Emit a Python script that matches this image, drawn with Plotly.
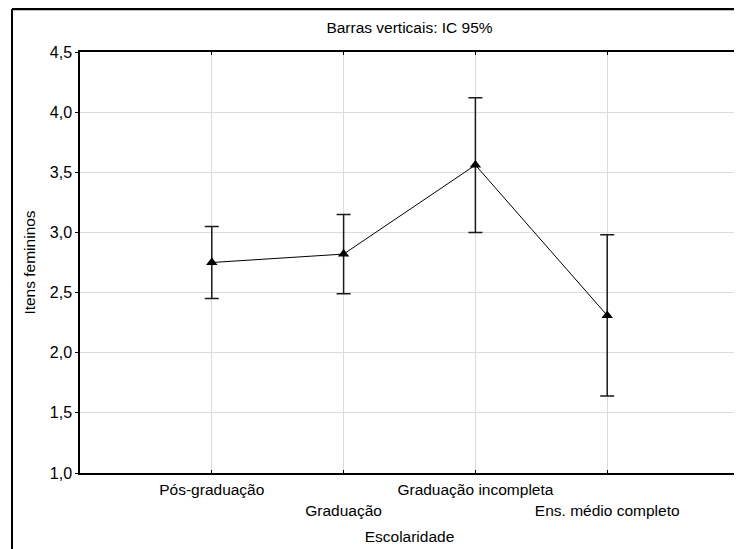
import plotly.graph_objects as go

categories = ["Pós-graduação", "Graduação", "Graduação incompleta", "Ens. médio completo"]
means = [2.75, 2.82, 3.56, 2.31]
ci_half = [0.30, 0.33, 0.56, 0.67]
y_ticks = [1.0, 1.5, 2.0, 2.5, 3.0, 3.5, 4.0, 4.5]

xpos = list(range(len(categories)))
ticktext = [c if i % 2 == 0 else "<br>" + c for i, c in enumerate(categories)]

FONT = "Liberation Sans, Arial, sans-serif"
OFF = 8  # page body margin
W, H = 742 - OFF, 549 - OFF
L, T, R, B = 80 - OFF, 52 - OFF, 3, H - (473 - OFF)

fig = go.Figure()
fig.add_trace(go.Scatter(
    x=xpos, y=means, mode="lines+markers",
    line=dict(color="black", width=1),
    marker=dict(symbol="triangle-up", size=10, color="black"),
    error_y=dict(type="data", array=ci_half, visible=True,
                 color="#1a1a1a", thickness=1.5, width=7),
    showlegend=False, hoverinfo="skip",
))

fig.update_layout(
    width=W, height=H,
    margin=dict(l=L, r=R, t=T, b=B, autoexpand=False),
    paper_bgcolor="white", plot_bgcolor="white",
    separators=",.",
    font=dict(family=FONT, size=16, color="black"),
    title=dict(text="Barras verticais: IC 95%", x=0.5, xref="paper",
               y=1 - (28 - OFF) / H, yanchor="middle", font=dict(size=15.5)),
    showlegend=False,
)

fig.update_xaxes(
    range=[-1, 4], tickmode="array", tickvals=xpos, ticktext=ticktext,
    tickangle=0, automargin=False, ticklabelstandoff=2,
    showgrid=True, gridcolor="#dcdcdc", gridwidth=1,
    showline=True, linecolor="black", linewidth=1.5, mirror="ticks",
    ticks="inside", ticklen=3, tickcolor="black",
    zeroline=False, tickfont=dict(size=15.5),
    title=dict(text="Escolaridade", font=dict(size=15.5), standoff=14),
)
fig.update_yaxes(
    range=[1.0, 4.5], tickmode="array", tickvals=y_ticks, tickformat=".1f",
    automargin=False,
    showgrid=True, gridcolor="#dcdcdc", gridwidth=1,
    showline=True, linecolor="black", linewidth=1.5, mirror="ticks",
    ticks="outside", ticklen=3, tickcolor="black",
    zeroline=False, tickfont=dict(size=16),
    title=dict(text="Itens femininos", font=dict(size=15.5), standoff=10),
)

# outer frame (cropped box: top and left edges)
pw, ph = W - L - R, H - T - B
fx = (12 - OFF - L) / pw
fy = (H - B - (9 - OFF)) / ph
fig.add_shape(type="line", xref="paper", yref="paper", x0=fx, x1=1.1, y0=fy, y1=fy,
              line=dict(color="black", width=2.5))
fig.add_shape(type="line", xref="paper", yref="paper", x0=fx, x1=fx, y0=fy, y1=-0.3,
              line=dict(color="black", width=2))

fig.write_html("out.html")
